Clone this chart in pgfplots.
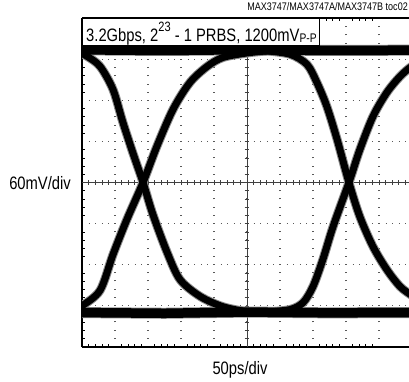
\documentclass[border=0pt]{standalone}
\usepackage{fontspec}
\setmainfont[FakeStretch=0.82]{Liberation Sans}
\usepackage{pgfplots}
\pgfplotsset{compat=1.18}

\begin{document}
\begin{tikzpicture}[x=1bp,y=1bp]
\begin{axis}[
    at={(82bp,35bp)}, anchor=south west,
    scale only axis, width=327bp, height=329bp,
    xmin=0, xmax=9.91, ymin=-4, ymax=4,
    axis x line=box, axis y line=left,
    axis line style={black, line width=1.6pt, -},
    every outer x axis line/.append style={-},
    every outer y axis line/.append style={-},
    xtick={0,...,9}, ytick={-4,...,4},
    xticklabels={}, yticklabels={},
    minor x tick num=4, minor y tick num=4,
    major tick length=0pt, minor tick length=3bp,
    tick align=inside,
    tick style={black, line width=0.6pt},
    grid=major,
    x grid style={black!65, line width=1.1bp, dash pattern=on 1bp off 7.2bp},
    y grid style={black!65, line width=1.1bp, dash pattern=on 1bp off 5.6bp},
    halo/.style={black!45, line width=9bp, smooth, tension=0.5, no markers},
    trace/.style={black, line width=7bp, smooth, tension=0.5, no markers},
    band/.style={black, line width=9.5bp, no markers},
]
% centre graticule lines
\draw[black!75, line width=0.9pt] (axis cs:5,-4) -- (axis cs:5,4);
\draw[black!75, line width=0.9pt] (axis cs:0,0) -- (axis cs:9.91,0);
\pgfplotsinvokeforeach{1,...,49}{
  \draw[black!75, line width=0.6pt] (axis cs:0.2*#1,-0.06) -- (axis cs:0.2*#1,0.06);
}
\pgfplotsinvokeforeach{-19,...,19}{
  \draw[black!75, line width=0.6pt] (axis cs:4.93,0.2*#1) -- (axis cs:5.07,0.2*#1);
}

% logic-one and logic-zero levels
\pgfplotstableread{
x y
-0.5 3.23
2.5 3.21
5.0 3.23
7.5 3.21
10.5 3.22
}\high
\pgfplotstableread{
x y
-0.5 -3.16
2.5 -3.18
5.0 -3.15
7.5 -3.17
10.5 -3.16
}\low
% left crossing
\pgfplotstableread{
x y
-0.6 3.22
-0.2 3.2
0.15 3.07
0.55 2.82
0.94 2.26
1.24 1.46
1.55 0.70
1.85 0
2.15 -0.78
2.58 -1.70
2.97 -2.36
3.58 -2.77
4.27 -3.02
5.0 -3.14
5.6 -3.16
}\fallA
\pgfplotstableread{
x y
-0.6 -3.17
-0.25 -3.1
0.0 -3.0
0.55 -2.62
0.94 -1.75
1.36 -0.90
1.85 0
2.27 0.88
2.76 1.78
3.27 2.43
3.79 2.82
4.27 3.04
5.0 3.15
5.6 3.2
}\riseA
% right crossing
\pgfplotstableread{
x y
5.5 3.21
6.3 3.12
6.82 2.87
7.12 2.43
7.42 1.85
7.73 1.05
8.09 0
8.42 -0.83
8.82 -1.56
9.24 -2.12
9.64 -2.53
10.0 -2.75
10.4 -2.95
}\fallB
\pgfplotstableread{
x y
5.5 -3.16
6.3 -3.09
6.70 -2.92
7.0 -2.53
7.30 -1.87
7.61 -1.07
8.09 0
8.42 0.80
8.82 1.61
9.24 2.19
9.64 2.58
10.0 2.83
10.4 3.0
}\riseB

% fuzzy grey halo first, solid traces on top
\addplot[black!45, line width=11bp, no markers] table {\high};
\addplot[black!45, line width=11bp, no markers] table {\low};
\addplot[halo] table {\fallA};
\addplot[halo] table {\riseA};
\addplot[halo] table {\fallB};
\addplot[halo] table {\riseB};
\addplot[band] table {\high};
\addplot[band] table {\low};
\addplot[trace] table {\fallA};
\addplot[trace] table {\riseA};
\addplot[trace] table {\fallB};
\addplot[trace] table {\riseB};
\end{axis}

% condition box
\draw[fill=white, line width=0.8bp] (82bp,337bp) rectangle (319bp,364bp);
\node[anchor=base west, inner sep=0pt] at (86bp,340.5bp)
  {\fontsize{18bp}{20bp}\selectfont 3.2Gbps, 2\raisebox{10bp}{\fontsize{13.5bp}{14bp}\selectfont 23} - 1 PRBS, 1200mV\raisebox{-1bp}{\fontsize{12.5bp}{13bp}\selectfont P-P}};

\node[anchor=base east, inner sep=0pt] at (408bp,371bp)
  {\fontsize{11bp}{12bp}\selectfont MAX3747/MAX3747A/MAX3747B toc02};
\node[anchor=base east, inner sep=0pt] at (71bp,192bp)
  {\fontsize{18bp}{20bp}\selectfont 60mV/div};
\node[anchor=base, inner sep=0pt] at (240bp,8bp)
  {\fontsize{18bp}{20bp}\selectfont 50ps/div};

\pgfresetboundingbox
\useasboundingbox (0,0) rectangle (409bp,382bp);
\end{tikzpicture}
\end{document}
